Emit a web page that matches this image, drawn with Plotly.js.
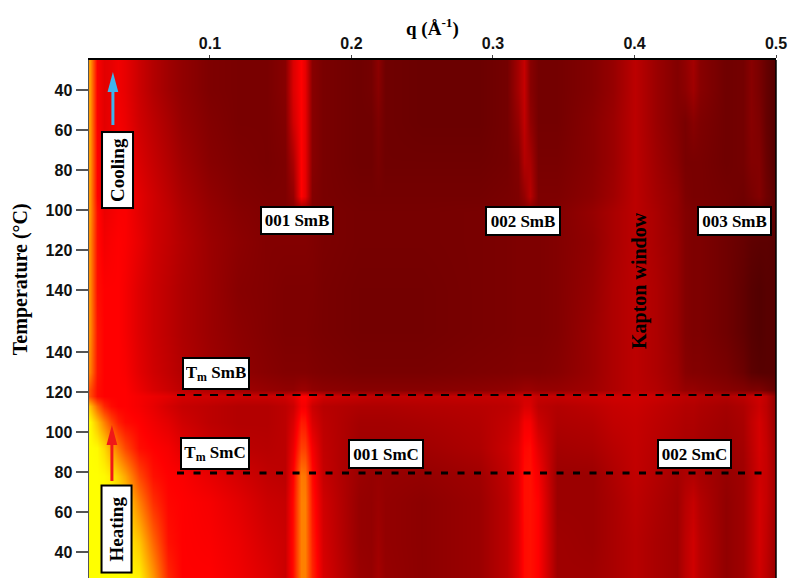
<!DOCTYPE html>
<html><head><meta charset="utf-8">
<script src="https://cdn.plot.ly/plotly-3.0.1.min.js"></script>
<style>html,body{margin:0;padding:0;background:#fff}#c{width:790px;height:578px}</style>
</head><body><div id="c"></div>
<script>
const qValues=[.015,.02,.025,.03,.035,.04,.05,.06,.07,.08,.10,.12,.14,.153,.159,.164,.167,.172,.18,.205,.214,.219,.224,.25,.29,.31,.318,.322,.326,.332,.345,.37,.385,.4,.415,.43,.436,.441,.446,.465,.477,.482,.488,.493,.5];
const scanPos=[27,45,65,78,92,105,113,118,121,130,150,171,195,210,218,235,255,271,286];
const h27=[200,200,200,200,200,200,195,160,115,100,100,94,86,78,105,150,150,115,84,58,56,62,56,52,58,72,88,104,106,100,60,60,64,70,64,60,72,80,70,54,60,70,80,72,56];
const h45=[200,200,200,200,199,196,178,140,106,100,98,92,82,78,105,150,150,112,82,56,55,60,55,52,58,72,88,104,106,100,60,58,64,70,64,60,72,80,70,54,60,70,82,74,58];
const h65=[200,200,200,198,194,185,150,118,102,100,96,88,78,76,104,150,150,108,80,56,55,58,55,52,58,72,88,105,106,100,58,58,64,72,66,60,70,76,68,54,60,70,82,76,60];
const h78=[200,200,198,192,180,165,128,106,100,98,90,82,74,72,100,148,146,104,76,58,56,57,56,55,60,74,88,105,106,96,58,58,66,74,68,62,66,68,64,56,60,70,80,76,60];
const h92=[200,198,185,165,145,128,105,100,96,88,78,72,70,72,92,125,124,96,74,60,60,60,60,60,66,78,88,102,104,88,62,64,70,75,70,66,64,64,62,58,62,72,82,76,58];
const h105=[198,175,150,128,112,104,100,94,88,80,72,68,68,72,84,110,108,84,72,62,62,62,62,64,68,75,82,96,96,78,66,68,74,76,72,68,66,66,64,60,64,74,82,74,55];
const h113=[175,140,115,104,100,100,96,90,82,76,72,68,68,72,78,96,96,78,70,66,66,66,66,68,70,72,76,84,84,72,68,72,76,78,74,70,68,68,66,62,66,72,78,72,54];
const h118=[130,105,100,100,100,100,96,92,88,82,80,78,78,80,86,100,100,90,80,76,74,74,74,74,76,76,80,82,82,76,76,78,80,80,78,74,72,72,70,68,72,76,80,74,52];
const h121=[130,105,100,100,100,100,92,84,78,72,66,60,56,54,54,58,58,54,52,50,50,50,50,50,52,54,56,58,58,56,56,60,66,72,68,60,56,56,54,50,48,46,46,42,36];
const h130=[150,108,100,100,100,98,88,80,74,68,60,54,50,48,48,48,48,47,46,44,44,44,44,44,46,47,48,48,48,48,50,58,66,72,66,58,50,48,48,44,38,32,30,30,30];
const h150=[155,108,100,100,100,96,86,78,72,66,58,52,48,46,46,46,46,45,44,42,42,42,42,42,44,45,46,46,46,46,48,58,66,72,66,56,48,46,46,40,34,30,28,30,30];
const c171=[155,105,100,100,100,96,86,78,72,66,58,50,48,46,46,46,46,46,44,42,42,42,42,42,44,45,46,46,46,46,48,56,66,72,66,56,48,46,46,40,34,30,28,30,30];
const c195=[155,105,95,98,100,98,90,80,74,68,58,52,48,48,48,48,48,47,45,43,43,43,43,43,44,45,46,46,46,46,48,54,64,72,64,56,48,46,46,40,36,33,32,32,30];
const c210=[158,105,92,95,98,98,88,80,74,66,56,50,47,47,48,50,50,47,45,43,43,43,43,43,44,45,46,46,47,46,48,56,64,72,64,54,48,46,46,42,38,38,38,36,34];
const c218=[158,100,90,94,98,98,88,80,72,64,54,48,46,46,55,100,90,48,44,42,42,42,42,42,42,44,46,55,70,46,46,52,60,72,62,54,46,44,44,42,40,44,48,40,32];
const c235=[160,100,90,94,98,96,84,76,68,60,50,46,44,46,65,100,90,50,44,40,40,44,40,40,40,42,48,68,64,44,44,50,58,72,60,50,44,44,44,40,42,48,48,38,28];
const c255=[160,98,88,92,96,92,80,72,64,56,48,44,44,48,80,100,90,50,44,40,40,46,40,38,38,42,56,74,54,42,42,50,58,72,58,48,44,50,46,40,42,50,46,36,28];
const c271=[160,98,88,90,94,90,78,68,60,54,46,44,44,50,85,100,90,50,44,40,42,50,40,38,38,42,62,76,50,42,42,48,56,72,58,48,52,60,50,40,42,50,44,36,28];
const c286=[160,98,88,90,94,90,78,68,60,54,46,44,44,50,85,100,90,50,44,40,42,52,40,38,38,42,62,76,50,42,42,48,56,72,58,48,54,62,50,40,42,50,44,36,28];
const zRows=[h27,h45,h65,h78,h92,h105,h113,h118,h121,h130,h150,c171,c195,c210,c218,c235,c255,c271,c286];
const yTickPos=[40,60,80,100,120,140,171,191,211,231,251,271];
const yTickText=['40','60','80','100','120','140','140','120','100','80','60','40'];
const xTicks=[0.1,0.2,0.3,0.4,0.5];
const lineQ=[0.0767,0.49];
const smbLineY=[118.5,118.5];
const smcLineY=[79.5,79.5];
const coolShaftQ=[0.0314,0.0314], coolShaftY=[253.5,272];
const coolHeadQ=[0.0276,0.0352,0.0314], coolHeadY=[270,270,280];
const heatShaftQ=[0.0307,0.0307], heatShaftY=[75.5,95];
const heatHeadQ=[0.0269,0.0345,0.0307], heatHeadY=[93.5,93.5,103.5];
const serif='"Liberation Serif","Times New Roman",serif';
const sans='"Liberation Sans",Arial,sans-serif';
function box(text,x,y,w,h,size,rot){return {text:'<b>'+text+'</b>',x:x,y:y,xref:'x',yref:'y',showarrow:false,
  font:{family:serif,size:size,color:'#000'},bgcolor:'#fff',bordercolor:'#000',borderwidth:2,borderpad:2,width:w,height:h,textangle:rot||0};}
function shaft(x,y,c){return {type:'scatter',mode:'lines',x:x,y:y,line:{color:c,width:3},hoverinfo:'skip'};}
function head(x,y,c){return {type:'scatter',mode:'none',x:x,y:y,fill:'toself',fillcolor:c,hoverinfo:'skip'};}
const traces=[
 {type:'heatmap',x:qValues,y:scanPos,z:zRows,zmin:0,zmax:200,zsmooth:'best',showscale:false,hoverinfo:'skip',
  colorscale:[[0,'#100000'],[0.5,'#ff0000'],[1,'#ffff00']]},
 {type:'scatter',mode:'lines',x:lineQ,y:smbLineY,line:{color:'#000',width:2,dash:'8px,8.5px'},hoverinfo:'skip'},
 {type:'scatter',mode:'lines',x:lineQ,y:smcLineY,line:{color:'#000',width:3,dash:'7px,9.5px'},hoverinfo:'skip'},
 shaft(coolShaftQ,coolShaftY,'#3fb4ee'),head(coolHeadQ,coolHeadY,'#3fb4ee'),
 shaft(heatShaftQ,heatShaftY,'#f01818'),head(heatHeadQ,heatHeadY,'#f01818')
];
const layout={width:790,height:578,margin:{l:89,r:14,t:60,b:0,pad:0},paper_bgcolor:'#fff',plot_bgcolor:'#fff',showlegend:false,
 xaxis:{side:'top',range:[0.0145,0.5],tickvals:xTicks,ticktext:xTicks.map(v=>v.toFixed(1)),ticks:'outside',ticklen:3,tickwidth:1,tickcolor:'#444',
  showgrid:false,zeroline:false,showline:true,linecolor:'#000',linewidth:2,
  tickfont:{family:sans,size:16,color:'#111',weight:'bold'}},
 yaxis:{range:[27,286],tickvals:yTickPos,ticktext:yTickText,ticks:'outside',ticklen:12,tickwidth:1.5,tickcolor:'#555',
  showgrid:false,zeroline:false,showline:true,linecolor:'#555',linewidth:1.5,
  tickfont:{family:sans,size:16,color:'#111',weight:'bold'}},
 shapes:[{type:'line',xref:'paper',yref:'paper',x0:1,x1:1,y0:0,y1:1,line:{color:'#000',width:1.5}}],
 annotations:[
  box('001 SmB',0.1615,205.75,66,21,17),box('002 SmB',0.3212,205.5,68,22,17),box('003 SmB',0.4707,205.5,67,22,17),
  box('T<sub>m</sub> SmB',0.1042,129.25,60,25,17),box('T<sub>m</sub> SmC',0.1035,89.25,62,25,17),
  box('001 SmC',0.2244,89,68,22,17),box('002 SmC',0.4424,89,67,22,17),
  box('Cooling',0.0343,231,70,25,19,-90),box('Heating',0.0336,51.25,81,24,19,-90),
  {text:'<b>Kapton window</b>',x:0.4032,y:175.5,xref:'x',yref:'y',showarrow:false,textangle:-90,font:{family:serif,size:20,color:'#000'}},
  {text:'<b>Temperature (°C)</b>',xref:'paper',yref:'paper',x:-0.1004,y:0.577,xanchor:'center',yanchor:'middle',showarrow:false,textangle:-90,font:{family:serif,size:20,color:'#000'}},
  {text:'<b>q (Å<sup>-1</sup>)</b>',xref:'paper',yref:'paper',x:0.5,y:1.0618,xanchor:'center',yanchor:'middle',showarrow:false,font:{family:serif,size:19,color:'#000'}}
 ]
};
Plotly.newPlot('c',traces,layout,{displayModeBar:false,staticPlot:true});
</script></body></html>
